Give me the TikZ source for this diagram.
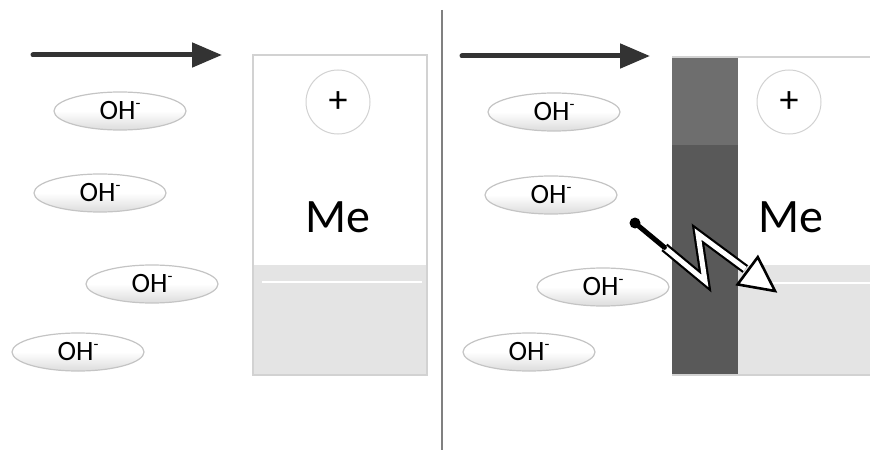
\documentclass[tikz,border=0pt]{standalone}
\usepackage{fontspec}
\setmainfont{Carlito}
\usetikzlibrary{shapes.geometric,arrows.meta,calc}
\definecolor{barlight}{HTML}{6E6E6E}
\definecolor{bardark}{HTML}{595959}
\definecolor{lgrey}{HTML}{E4E4E4}
\definecolor{ionbot}{HTML}{DCDCDC}
\definecolor{edgec}{HTML}{D2D2D2}
\definecolor{ionedge}{HTML}{C4C4C4}
\definecolor{arrowc}{HTML}{333333}
\begin{document}
\begin{tikzpicture}[x=1pt,y=-1pt,
  ion/.style={ellipse, draw=ionedge, line width=1.2pt, top color=white, bottom color=ionbot, middle color=white,
    minimum width=132pt, minimum height=38pt, inner sep=0pt, font=\fontsize{28}{28}\selectfont},
  plusc/.style={circle, draw=edgec, line width=1pt, fill=white, minimum size=64pt, inner sep=0pt,
    font=\fontsize{38}{38}\selectfont},
  metal/.style={font=\fontsize{48}{48}\selectfont, inner sep=0pt},
  bigarrow/.style={draw=arrowc, line width=5pt, line cap=round, -{Triangle[length=30pt,width=24pt]}},
  boxedge/.style={draw=edgec, line width=1.5pt},
  gap/.style={draw=white, line width=1.5pt}
]
\useasboundingbox (0,0) rectangle (870,452);
\newcommand{\ohm}{OH\raisebox{11pt}{\fontsize{16}{16}\selectfont -}}
% divider
\coordinate (d1) at (442,10);
\coordinate (d2) at (442,450);
\draw[gray, line width=1.8pt] (d1) -- (d2);
% ---------- left panel ----------
\fill[white] (253,55) rectangle (427,265);
\fill[lgrey] (253,265) rectangle (427,375);
\draw[boxedge] (253,55) rectangle (427,375);
\coordinate (lg1) at (262,282);
\coordinate (lg2) at (422,282);
\draw[gap] (lg1) -- (lg2);
\node[plusc] (lplus) at (338,102) {+};
\node[metal] (lme) at (338,217) {Me};
\coordinate (la1) at (33,55);
\coordinate (la2) at (222,55);
\draw[bigarrow] (la1) -- (la2);
\node[ion] (lo1) at (120,111) {\ohm};
\node[ion] (lo2) at (100,193) {\ohm};
\node[ion] (lo3) at (152,284) {\ohm};
\node[ion] (lo4) at (78,352) {\ohm};
% ---------- right panel ----------
\fill[barlight] (672,57) rectangle (738,145);
\fill[bardark] (672,145) rectangle (738,375);
\fill[lgrey] (738,265) rectangle (870,375);
\draw[edgec, line width=1.5pt] (672,57) -- (870,57);
\draw[edgec, line width=1.5pt] (672,375) -- (870,375);
\coordinate (rg1) at (760,283);
\coordinate (rg2) at (870,283);
\draw[gap] (rg1) -- (rg2);
\node[plusc] (rplus) at (789,102) {+};
\node[metal] (rme) at (791,217) {Me};
\coordinate (ra1) at (462,56);
\coordinate (ra2) at (650,56);
\draw[bigarrow] (ra1) -- (ra2);
\node[ion] (ro1) at (554,112) {\ohm};
\node[ion] (ro2) at (551,195) {\ohm};
\node[ion] (ro3) at (603,287) {\ohm};
\node[ion] (ro4) at (529,352) {\ohm};
% lightning
\coordinate (z0) at (635,223);
\coordinate (z1) at (705,281);
\coordinate (z2) at (698,234);
\coordinate (z3) at (775,291);
\coordinate (zs) at ($(z0)!0.42!(z1)$);
\coordinate (zb) at ($(z3)!34pt!(z2)$);
\coordinate (zc1) at ($(zb)!17pt!90:(z3)$);
\coordinate (zc2) at ($(zb)!17pt!-90:(z3)$);
\draw[black, line width=2.2pt, double=white, double distance=5pt, line join=miter] (zs) -- (z1) -- (z2) -- ($(zb)!-3pt!(z3)$);
\draw[black, line width=5pt, line cap=round] (z0) -- (zs);
\fill[black] (z0) circle (5.5pt);
\draw[black, fill=white, line width=2.6pt, line join=miter] (z3) -- (zc1) -- (zc2) -- cycle;
\end{tikzpicture}
\end{document}
